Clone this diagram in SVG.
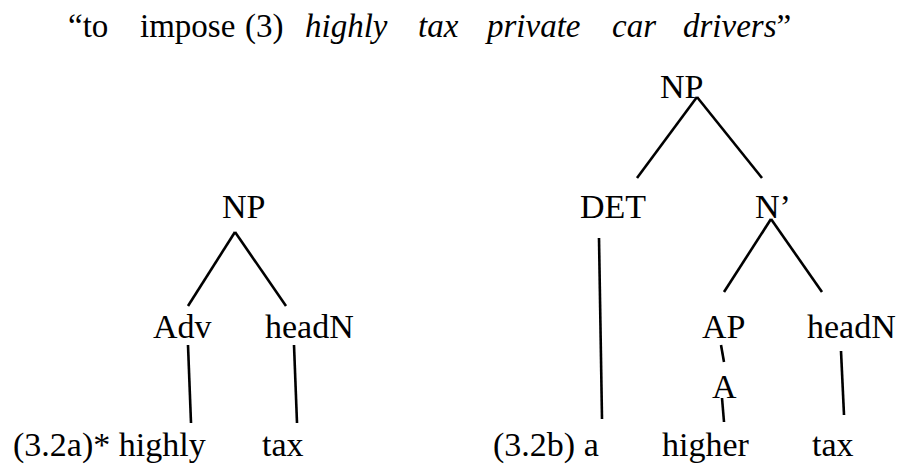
<svg xmlns="http://www.w3.org/2000/svg" width="898" height="464" viewBox="0 0 898 464">
<style>
text{font-family:"Liberation Serif","Times New Roman",serif;font-size:34px;fill:#000}
.title{font-size:33px}
.it{font-style:italic}
.edge{stroke:#000;stroke-width:2.6;fill:none;stroke-linecap:butt}
</style>
<rect width="898" height="464" fill="#fff"/>
<g id="title">
<text class="title" y="37"><tspan x="68">“to</tspan><tspan x="140">impose</tspan><tspan x="245">(3)</tspan><tspan x="305" class="it">highly</tspan><tspan x="418" class="it">tax</tspan><tspan x="487" class="it">private</tspan><tspan x="612" class="it">car</tspan><tspan x="683" class="it">drivers</tspan><tspan>”</tspan></text>
</g>
<g id="connectors">
<line class="edge" x1="235" y1="232" x2="188" y2="306"/>
<line class="edge" x1="235" y1="232" x2="286" y2="306"/>
<line class="edge" x1="188" y1="345" x2="191" y2="423"/>
<line class="edge" x1="294" y1="345" x2="297" y2="423"/>
<line class="edge" x1="697" y1="97" x2="637" y2="178"/>
<line class="edge" x1="697" y1="97" x2="762" y2="178"/>
<line class="edge" x1="599" y1="238" x2="602" y2="419"/>
<line class="edge" x1="771" y1="219" x2="724" y2="292"/>
<line class="edge" x1="771" y1="219" x2="822" y2="292"/>
<line class="edge" x1="721" y1="345" x2="724" y2="362"/>
<line class="edge" x1="722" y1="398" x2="724" y2="422"/>
<line class="edge" x1="841" y1="351" x2="844" y2="415"/>
</g>
<g id="left-NP"><text x="222" y="218">NP</text></g>
<g id="left-Adv"><text x="153" y="338">Adv</text></g>
<g id="left-headN"><text x="265" y="338">headN</text></g>
<g id="left-highly"><text x="13" y="456">(3.2a)* highly</text></g>
<g id="left-tax"><text x="262" y="456">tax</text></g>
<g id="right-NP"><text x="660" y="98">NP</text></g>
<g id="right-DET"><text x="580" y="218">DET</text></g>
<g id="right-Nbar"><text x="755" y="218">N’</text></g>
<g id="right-AP"><text x="702" y="338">AP</text></g>
<g id="right-headN"><text x="807" y="338">headN</text></g>
<g id="right-A"><text x="712" y="398">A</text></g>
<g id="right-a"><text x="493" y="456">(3.2b) a</text></g>
<g id="right-higher"><text x="662" y="456">higher</text></g>
<g id="right-tax"><text x="812" y="456">tax</text></g>
</svg>
